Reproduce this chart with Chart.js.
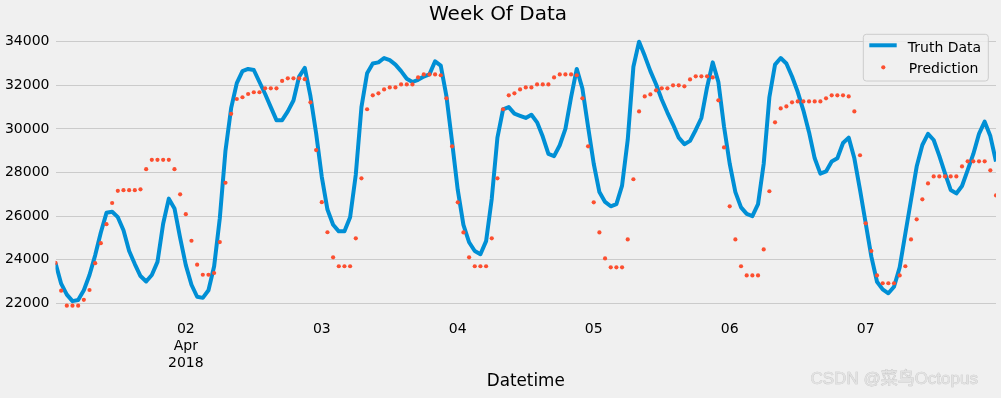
<!DOCTYPE html>
<html>
<head>
<meta charset="utf-8">
<script src="https://cdn.jsdelivr.net/npm/chart.js@4.4.1/dist/chart.umd.min.js"></script>
<style>
html,body{margin:0;padding:0;background:#f0f0f0;}
#wrap{width:1001px;height:398px;position:relative;overflow:hidden;}
canvas{display:block;}
</style>
</head>
<body>
<div id="wrap"><canvas id="c" width="1001" height="398"></canvas></div>
<script>
// ---- data (hourly, starting 2018-04-01 01:00) ----
const startTime = '2018-04-01T01:00:00Z';

const truthData = [
 23850,22900,22400,22100,22150,22600,23300,24200,25250,26150,26200,25950,25350,24400,23800,23250,23000,23300,23900,25650,26800,26350,25000,23750,
 22850,22300,22250,22600,23700,25900,29000,30950,32100,32650,32750,32700,32150,31600,31000,30400,30400,30800,31300,32400,32800,31500,29800,27800,
 26300,25600,25300,25300,25950,27900,31000,32550,33000,33050,33250,33150,32950,32650,32300,32150,32250,32400,32500,33100,32900,31500,29400,27200,
 25600,24800,24400,24250,24850,26800,29600,30900,31000,30700,30600,30500,30650,30300,29650,28850,28750,29250,30000,31450,32750,31850,30100,28400,
 27100,26650,26450,26550,27400,29500,32850,34000,33350,32650,32050,31350,30750,30200,29600,29300,29450,29950,30500,31900,33050,32150,30100,28400,
 27100,26400,26100,26000,26550,28400,31450,32950,33250,33000,32400,31700,30850,29850,28650,27950,28050,28500,28650,29350,29600,28650,27200,25670,
 24140,22990,22640,22460,22760,23650,25200,26740,28270,29260,29770,29490,28760,27960,27200,27040,27380,28110,28850,29770,30330,29670,28500
];

const predictionData = [
 23850,22580,21890,21890,21890,22160,22610,23840,24760,25630,26600,27160,27190,27190,27190,27230,28150,28580,28580,28580,28580,28150,27000,26090,
 24870,23770,23310,23310,23390,24810,27530,30690,31370,31450,31600,31680,31680,31860,31860,31860,32200,32320,32320,32320,32280,31220,29030,26640,
 25260,24110,23700,23700,23700,24980,27730,30900,31540,31630,31810,31900,31900,32040,32040,32040,32360,32500,32500,32500,32460,31400,29200,26630,
 25250,24110,23700,23700,23700,24980,27730,30900,31540,31630,31810,31900,31900,32040,32040,32040,32360,32500,32500,32500,32460,31400,29200,26630,
 25250,24060,23650,23650,23650,24930,27690,30800,31490,31580,31770,31860,31860,32000,32000,31950,32270,32410,32410,32410,32360,31310,29150,26450,
 24930,23700,23280,23280,23280,24470,27140,30300,30940,31030,31220,31260,31260,31260,31260,31260,31400,31540,31540,31540,31490,30800,28790,25670,
 24400,23280,22920,22920,22920,23280,23700,24930,25850,26770,27500,27820,27820,27820,27820,27820,28280,28510,28510,28510,28510,28100,26950
];

const xTickDates = ['2018-04-02','2018-04-03','2018-04-04','2018-04-05','2018-04-06','2018-04-07'];
const xTickLabels = [['02','Apr','2018'],'03','04','05','06','07'];
const yTickValues = [22000,24000,26000,28000,30000,32000,34000];
const yMin = 21280, yMax = 34673;

// ---- derived ----
const startMs = Date.parse(startTime);
const hourOf = d => Math.round((Date.parse(d + 'T00:00:00Z') - startMs) / 3600000);
const xTickHours = xTickDates.map(hourOf);
const truthPts = truthData.map((v, i) => ({x: i, y: v}));
const predPts = predictionData.map((v, i) => ({x: i, y: v}));
const lastHour = Math.max(truthData.length, predictionData.length) - 1;

Chart.defaults.font.family = "'DejaVu Sans', sans-serif";
Chart.defaults.color = '#000';

const overlay = {
  id: 'overlay',
  afterDraw(chart) {
    const ctx = chart.ctx;
    const a = chart.chartArea;
    ctx.save();
    // legend frame
    const lx = a.right - 132.7, ly = a.top + 7.3, lw = 125, lh = 46.7;
    ctx.beginPath();
    ctx.roundRect(lx, ly, lw, lh, 3);
    ctx.fillStyle = 'rgba(240,240,240,0.8)';
    ctx.fill();
    ctx.strokeStyle = '#cccccc';
    ctx.lineWidth = 1;
    ctx.stroke();
    // line sample
    ctx.beginPath();
    ctx.moveTo(lx + 6, ly + 11);
    ctx.lineTo(lx + 33.4, ly + 11);
    ctx.strokeStyle = chart.data.datasets[0].borderColor;
    ctx.lineWidth = 4;
    ctx.stroke();
    // dot sample
    ctx.beginPath();
    ctx.arc(lx + 20, ly + 33, 2.1, 0, Math.PI * 2);
    ctx.fillStyle = chart.data.datasets[1].pointBackgroundColor;
    ctx.fill();
    // texts
    ctx.fillStyle = '#000';
    ctx.font = "14px 'DejaVu Sans', sans-serif";
    ctx.textBaseline = 'alphabetic';
    ctx.textAlign = 'left';
    ctx.fillText(chart.data.datasets[0].label, lx + 44.5, ly + 18);
    ctx.fillText(chart.data.datasets[1].label, lx + 45.5, ly + 39);
    // watermark
    ctx.font = "17px 'Liberation Sans', 'Noto Sans CJK SC', sans-serif";
    ctx.lineWidth = 0.6;
    ctx.strokeStyle = '#c2c2c2';
    ctx.fillStyle = '#e2e2e2';
    ctx.strokeText('CSDN @菜鸟Octopus', 810.5, 383.5);
    ctx.fillText('CSDN @菜鸟Octopus', 810.5, 383.5);
    ctx.restore();
  }
};

new Chart(document.getElementById('c'), {
  type: 'line',
  data: {
    datasets: [
      {label: 'Truth Data', data: truthPts, borderColor: '#008fd5', backgroundColor: '#008fd5',
       borderWidth: 4, pointRadius: 0, tension: 0, fill: false, clip: 0,
       borderJoinStyle: 'round', order: 2},
      {label: 'Prediction', data: predPts, showLine: false, pointRadius: 2.1, pointBorderWidth: 0,
       pointBackgroundColor: '#fc4f30', borderColor: '#fc4f30', backgroundColor: '#fc4f30',
       clip: 0, order: 1}
    ]
  },
  options: {
    responsive: false, animation: false, devicePixelRatio: 1,
    layout: {padding: {left: 0, right: 5, top: 0, bottom: 0}},
    plugins: {
      legend: {display: false},
      tooltip: {enabled: false},
      title: {display: true, text: 'Week Of Data', color: '#000',
              font: {size: 20, weight: 'normal', lineHeight: 1.2}, padding: {top: 3, bottom: 0}}
    },
    scales: {
      x: {
        type: 'linear', min: 0, max: lastHour,
        grid: {display: false, drawTicks: false}, border: {display: false},
        afterBuildTicks: s => { s.ticks = xTickHours.map(v => ({value: v})); },
        afterFit: s => { s.height = 79; },
        ticks: {autoSkip: false, maxRotation: 0, minRotation: 0, padding: 2, color: '#000',
                font: {size: 14, lineHeight: 1.2},
                callback: v => { const i = xTickHours.indexOf(v); return i >= 0 ? xTickLabels[i] : ''; }},
        title: {display: true, text: 'Datetime', color: '#000', font: {size: 16.8, lineHeight: 1.2},
                padding: {top: 0, bottom: 6}}
      },
      y: {
        min: yMin, max: yMax,
        grid: {color: '#cbcbcb', lineWidth: 1, drawTicks: false}, border: {display: false},
        afterBuildTicks: s => { s.ticks = yTickValues.map(v => ({value: v})); },
        afterFit: s => { s.width = 55.5; },
        ticks: {padding: 6, color: '#000', font: {size: 14}, callback: v => String(v)}
      }
    }
  },
  plugins: [overlay]
});
</script>
</body>
</html>
